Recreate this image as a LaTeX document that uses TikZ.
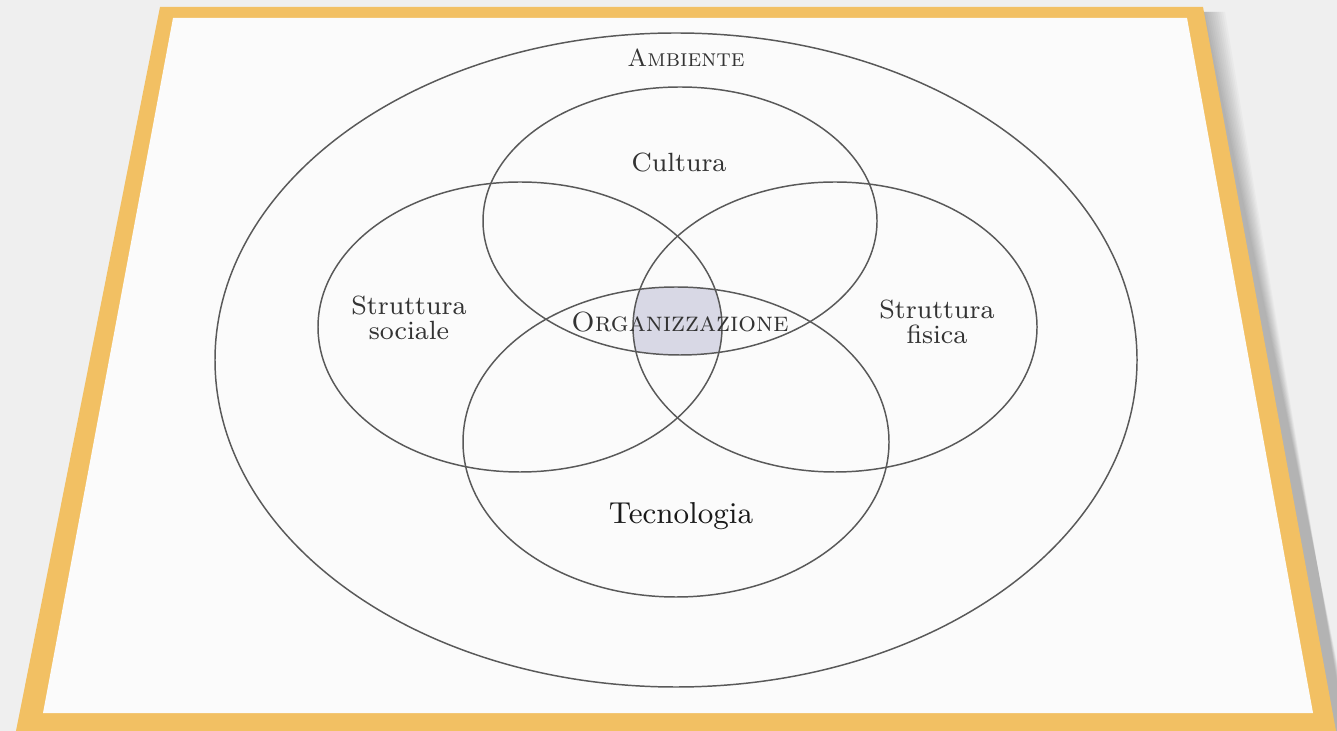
\documentclass[tikz,border=0pt]{standalone}
\usepackage{tikz}
\definecolor{pagebg}{HTML}{EFEFEF}
\definecolor{framecol}{HTML}{F2C063}
\definecolor{sheetcol}{HTML}{FBFBFB}
\definecolor{corecol}{HTML}{D8D8E5}
\tikzset{
  ring/.style={draw=black!65,line width=0.42pt},
  lbl/.style={align=center,inner sep=0pt,text=black!80,font=\fontsize{7.5}{7}\selectfont},
}
\begin{document}
\begin{tikzpicture}[x=0.01cm,y=-0.01cm]
        \useasboundingbox[fill=pagebg] (0,0) rectangle (1337,731);
        % shadow and frame
        \foreach \d in {2,4,...,22}
            \fill[black,opacity=0.025] (1203+\d,12) -- (1337,660+\d) -- (1337,731) -- (17,731) -- (160,10) -- cycle;
        \fill[framecol] (160,7) -- (1203,7) -- (1336,731) -- (16,731) -- cycle;
        \fill[sheetcol] (173,18) -- (1187,18) -- (1313,713) -- (43,713) -- cycle;
        % centre
        \begin{scope}
            \clip (680,221) ellipse [x radius=197,y radius=134];
            \clip (520,327) ellipse [x radius=202,y radius=145];
            \clip (835,327) ellipse [x radius=202,y radius=145];
            \clip (676,442) ellipse [x radius=213,y radius=155];
            \fill[corecol] (500,200) rectangle (900,500);
        \end{scope}
        \draw[ring] (676,360) ellipse [x radius=461,y radius=327];
        \draw[ring] (680,221) ellipse [x radius=197,y radius=134];
        \draw[ring] (520,327) ellipse [x radius=202,y radius=145];
        \draw[ring] (835,327) ellipse [x radius=202,y radius=145];
        \draw[ring] (676,442) ellipse [x radius=213,y radius=155];
        % labels
        \node[lbl,font=\fontsize{7}{8}\selectfont] (ambiente) at (686,58) {\textsc{Ambiente}};
        \node[lbl] (cultura) at (679,163) {Cultura};
        \node[lbl] (sociale) at (409,318) {Struttura\\sociale};
        \node[lbl] (fisica) at (937,322) {Struttura\\fisica};
        \node[lbl,font=\fontsize{7.9}{8}\selectfont] (org) at (680,322) {\textsc{Organizzazione}};
        \node[lbl,font=\fontsize{8.6}{10}\selectfont,text=black!90] (tecno) at (681,516) {Tecnologia};
\end{tikzpicture}
\end{document}
